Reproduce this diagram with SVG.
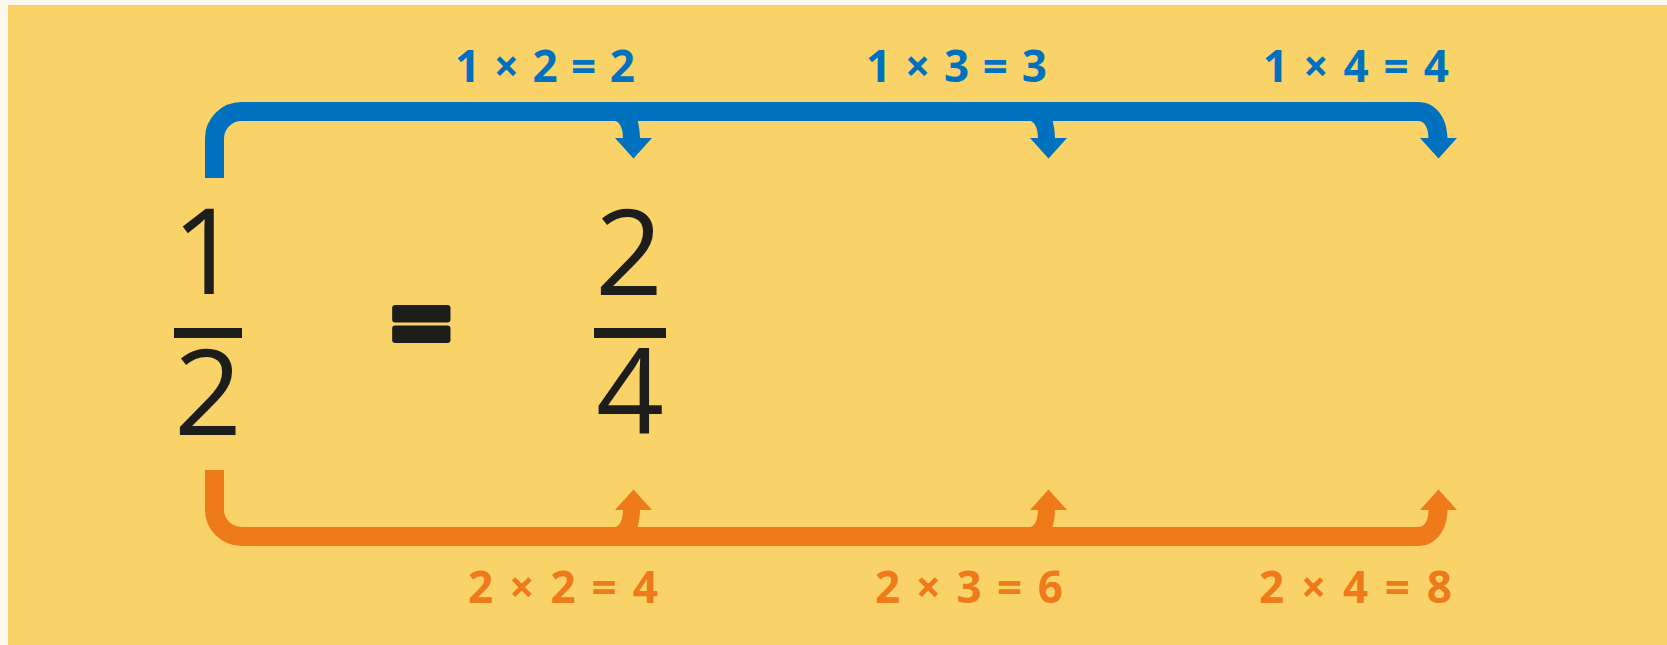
<svg xmlns="http://www.w3.org/2000/svg" width="1667" height="645" viewBox="0 0 1667 645">
  <style>
    .lbl { font-family: "Open Sans", "Liberation Sans", sans-serif; font-weight: 700; font-size: 44px; }
    .blue { fill: #0071BF; }
    .orange { fill: #EE7A1A; }
    .big { font-family: "Open Sans", "Liberation Sans", sans-serif; font-weight: 400; font-size: 119px; fill: #1D1D1B; text-anchor: middle; }
    .eq { font-family: "Open Sans", "Liberation Sans", sans-serif; font-weight: 700; font-size: 108px; fill: #1D1D1B; stroke: #1D1D1B; stroke-width: 6; stroke-linejoin: round; text-anchor: middle; }
    .bar { fill: #1D1D1B; }
  </style>
  <rect x="0" y="0" width="1667" height="645" fill="#FDF8EC"/>
  <rect x="8" y="5" width="1659" height="640" fill="#F9D368"/>

  <g id="connectors">
    <g id="top-connector" fill="#0071BF">
      <path d="M214.5 178 V138.5 A27 27 0 0 1 241.5 111.5 H1419" fill="none" stroke="#0071BF" stroke-width="19"/>
      <path d="M1418 102 C1436 102 1447.5 118 1447.5 139 L1428.5 139 C1428.5 128 1425 121 1418 121 Z"/>
      <path d="M611 120 C620 120 623 128 623 139 L640 139 C640 130 638.5 125 637.5 120 Z"/>
      <path d="M1026 120 C1035 120 1038 128 1038 139 L1055 139 C1055 130 1053.5 125 1052.5 120 Z"/>
      <polygon points="615,138 652,138 633.5,158.5"/>
      <polygon points="1030,138 1067,138 1048.5,158.5"/>
      <polygon points="1420,138 1457,138 1438.5,158.5"/>
    </g>
    <g id="bottom-connector" fill="#EE7A1A">
      <path d="M214.5 470 V509.5 A27 27 0 0 0 241.5 536.5 H1419" fill="none" stroke="#EE7A1A" stroke-width="19"/>
      <path d="M1418 546 C1436 546 1447.5 530 1447.5 509 L1428.5 509 C1428.5 520 1425 527 1418 527 Z"/>
      <path d="M611 528 C620 528 623 520 623 509 L640 509 C640 518 638.5 523 637.5 528 Z"/>
      <path d="M1026 528 C1035 528 1038 520 1038 509 L1055 509 C1055 518 1053.5 523 1052.5 528 Z"/>
      <polygon points="615,510 652,510 633.5,489.5"/>
      <polygon points="1030,510 1067,510 1048.5,489.5"/>
      <polygon points="1420,510 1457,510 1438.5,489.5"/>
    </g>
  </g>

  <g id="label-top-1"><text class="lbl blue" x="455" y="82" textLength="180" lengthAdjust="spacing">1 × 2 = 2</text></g>
  <g id="label-top-2"><text class="lbl blue" x="866" y="82" textLength="181" lengthAdjust="spacing">1 × 3 = 3</text></g>
  <g id="label-top-3"><text class="lbl blue" x="1263" y="82" textLength="186" lengthAdjust="spacing">1 × 4 = 4</text></g>
  <g id="label-bottom-1"><text class="lbl orange" x="468" y="603" textLength="190" lengthAdjust="spacing">2 × 2 = 4</text></g>
  <g id="label-bottom-2"><text class="lbl orange" x="875" y="603" textLength="188" lengthAdjust="spacing">2 × 3 = 6</text></g>
  <g id="label-bottom-3"><text class="lbl orange" x="1259" y="603" textLength="193" lengthAdjust="spacing">2 × 4 = 8</text></g>

  <g id="fraction-1-2">
    <text class="big" x="206" y="294">1</text>
    <rect class="bar" x="174" y="328" width="68" height="10"/>
    <text class="big" x="208" y="435">2</text>
  </g>
  <g id="equals">
    <text class="eq" x="421.5" y="362">=</text>
  </g>
  <g id="fraction-2-4">
    <text class="big" x="629" y="295">2</text>
    <rect class="bar" x="594" y="328" width="72" height="10"/>
    <text class="big" x="630" y="434">4</text>
  </g>
</svg>
